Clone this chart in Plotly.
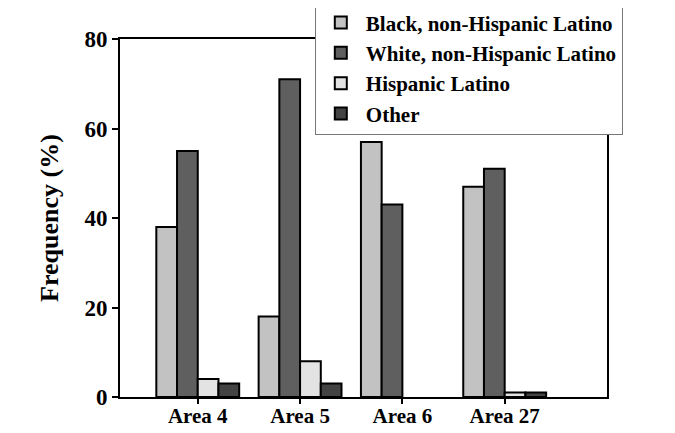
import plotly.graph_objects as go

areas = ["Area 4", "Area 5", "Area 6", "Area 27"]
black_nonhisp = [38, 18, 57, 47]
white_nonhisp = [55, 71, 43, 51]
hispanic = [4, 8, 0, 1]
other = [3, 3, 0, 1]

series = [
    ("Black, non-Hispanic Latino", black_nonhisp, "#c2c2c2"),
    ("White, non-Hispanic Latino", white_nonhisp, "#5f5f5f"),
    ("Hispanic Latino", hispanic, "#e3e3e3"),
    ("Other", other, "#434343"),
]

pos = list(range(len(areas)))

fig = go.Figure()
for name, vals, col in series:
    # empty bars (value 0) get no outline
    widths = [2 if v > 0 else 0 for v in vals]
    fig.add_trace(go.Bar(
        x=pos, y=vals, name=name,
        marker=dict(color=col, line=dict(color="black", width=widths)),
    ))

font = "Liberation Serif"
# page body adds ~8px margin, so the figure is a bit smaller than the window
fig.update_layout(
    width=667, height=425,
    margin=dict(l=112, r=68, t=31, b=36, autoexpand=False),
    paper_bgcolor="white", plot_bgcolor="white",
    barmode="group", bargap=0.19, bargroupgap=0,
    font=dict(family=font, color="black"),
    showlegend=True,
    legend=dict(
        x=0.40, y=1.105, xanchor="left", yanchor="top",
        bgcolor="white", bordercolor="#777777", borderwidth=1,
        font=dict(family=font, size=21, color="black", weight="bold"),
        itemwidth=40, tracegroupgap=0,
    ),
)
fig.update_xaxes(
    range=[-0.76, 4.0], tickvals=pos, ticktext=areas,
    showline=True, linecolor="black", linewidth=2, mirror=True,
    ticks="outside", ticklen=5, tickwidth=2, tickcolor="black",
    ticklabelstandoff=-6,
    tickfont=dict(family=font, size=21, weight="bold"),
    showgrid=False, zeroline=False,
)
fig.update_yaxes(
    range=[0, 80], tickvals=[0, 20, 40, 60, 80],
    showline=True, linecolor="black", linewidth=2, mirror=True,
    ticks="outside", ticklen=6, tickwidth=2, tickcolor="black",
    tickfont=dict(family=font, size=23, weight="bold"),
    title=dict(text="Frequency (%)", font=dict(family=font, size=26, weight="bold"), standoff=18),
    showgrid=False, zeroline=False,
)

fig.write_html("out.html")
